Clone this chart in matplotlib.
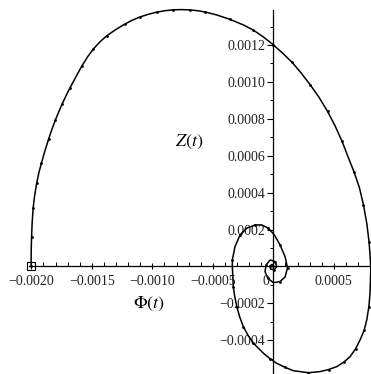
import matplotlib
matplotlib.use("Agg")
import matplotlib.pyplot as plt
import numpy as np

plt.rcParams['mathtext.fontset'] = 'stix'
plt.rcParams['font.family'] = ['Liberation Serif', 'DejaVu Serif']

# trajectory (Phi(t), Z(t)), units of 1e-4
phi = [-20.02, -20.01, -19.98, -19.93, -19.85, -19.74, -19.56, -19.38, -19.17, -18.88,
       -18.57, -18.30, -18.01, -17.74, -17.45, -17.14, -16.82, -16.32, -15.83, -15.35,
       -14.88, -14.32, -13.77, -13.04, -12.26, -11.64, -11.02, -10.31, -9.64, -8.95,
       -8.26, -7.59, -6.88, -6.26, -5.64, -4.68, -3.58, -2.48, -1.68, -0.83,
       0.0, 0.80, 1.55, 2.29, 3.03, 3.78, 4.48, 5.10, 5.68, 6.21,
       6.67, 7.12, 7.45, 7.72, 7.91, 8.02, 8.05, 7.99, 7.89, 7.72,
       7.50, 7.17, 6.79, 6.34, 5.80, 5.24, 4.56, 3.86, 2.89, 1.65,
       0.97, 0.28, -0.27, -0.83, -1.65, -2.09, -2.48, -2.78, -3.02, -3.19,
       -3.31, -3.39, -3.39, -3.17, -2.75, -2.20, -1.51, -0.96, -0.41, 0.08,
       0.55, 0.97, 1.17, 0.97, 0.55, 0.0, -0.46, -0.69, -0.60, -0.27,
       0.14, 0.28, 0.06, -0.23, -0.27, -0.11, -0.02]
zz = [0.0, 0.89, 1.62, 2.41, 3.17, 3.78, 4.51, 5.07, 5.59, 6.26,
      6.91, 7.43, 7.94, 8.37, 8.81, 9.24, 9.66, 10.27, 10.86, 11.36,
      11.78, 12.18, 12.50, 12.83, 13.14, 13.35, 13.52, 13.67, 13.78, 13.86,
      13.91, 13.92, 13.90, 13.86, 13.79, 13.63, 13.39, 13.09, 12.82, 12.44,
      12.01, 11.54, 11.06, 10.49, 9.86, 9.16, 8.40, 7.62, 6.78, 5.88,
      5.12, 4.25, 3.33, 2.34, 1.33, 0.35, -0.19, -1.45, -2.20, -2.90,
      -3.47, -3.98, -4.47, -4.89, -5.20, -5.43, -5.59, -5.70, -5.76, -5.65,
      -5.47, -5.25, -5.00, -4.70, -4.16, -3.74, -3.26, -2.74, -2.18, -1.64,
      -1.09, 0.0, 0.35, 1.07, 1.71, 2.07, 2.25, 2.25, 2.07, 1.71,
      1.17, 0.53, -0.08, -0.57, -0.82, -0.88, -0.64, -0.28, 0.08, 0.35,
      0.26, -0.01, -0.19, -0.14, 0.03, 0.11, 0.0]

xticks = [-0.0020, -0.0015, -0.0010, -0.0005, 0.0005]
xlabels = ['\u22120.0020', '\u22120.0015', '\u22120.0010', '\u22120.0005', '0.0005']
yticks = [-0.0004, -0.0002, 0.0002, 0.0004, 0.0006, 0.0008, 0.0010, 0.0012]
ylabels = ['\u22120.0004', '\u22120.0002', '0.0002', '0.0004', '0.0006',
           '0.0008', '0.0010', '0.0012']

x = np.array(phi) * 1e-4
y = np.array(zz) * 1e-4

fig = plt.figure(figsize=(3.71, 3.74), dpi=100)
ax = fig.add_axes([0, 0, 1, 1])

ax.plot(x, y, color='black', lw=1.1, marker='o', ms=1.0, markevery=2)
ax.plot(x[0], y[0], marker='s', ms=6, mfc='none', mec='black', mew=0.8)

ax.set_xlim(-0.002259, 0.000807)
ax.set_ylim(-0.000583, 0.001444)

for s in ['top', 'right']:
    ax.spines[s].set_visible(False)
ax.spines['bottom'].set_position('zero')
ax.spines['left'].set_position('zero')
ax.spines['bottom'].set_bounds(-0.00202, 0.000807)
ax.spines['left'].set_bounds(-0.000575, 0.00139)
ax.spines['bottom'].set_linewidth(0.9)
ax.spines['left'].set_linewidth(0.9)

ax.set_xticks(xticks)
ax.set_xticklabels(xlabels)
ax.set_xticks(np.arange(-0.0020, 0.00081, 0.0001), minor=True)
ax.set_yticks(yticks)
ax.set_yticklabels(ylabels)
ax.set_yticks(np.arange(-0.0005, 0.00139, 0.0001), minor=True)

ax.tick_params(axis='x', which='major', direction='inout', length=5, width=0.8,
               labelsize=10, pad=4, labelcolor='#222222')
ax.tick_params(axis='x', which='minor', direction='in', length=3, width=0.7)
ax.tick_params(axis='y', which='major', direction='out', length=4, width=0.8,
               labelsize=10, pad=2, labelcolor='#222222')
ax.tick_params(axis='y', which='minor', direction='out', length=2.5, width=0.7)

ax.annotate('0', xy=(0, 0), xytext=(-5, -11), textcoords='offset points',
            ha='center', va='center', fontsize=10, color='#222222')

ax.text(-0.001027, -0.000203, r'$\Phi(t)$', fontsize=13, ha='center', va='center')
ax.text(-0.000697, 0.000675, r'$Z(t)$', fontsize=13, ha='center', va='center')

fig.savefig('out.png', dpi=100)
